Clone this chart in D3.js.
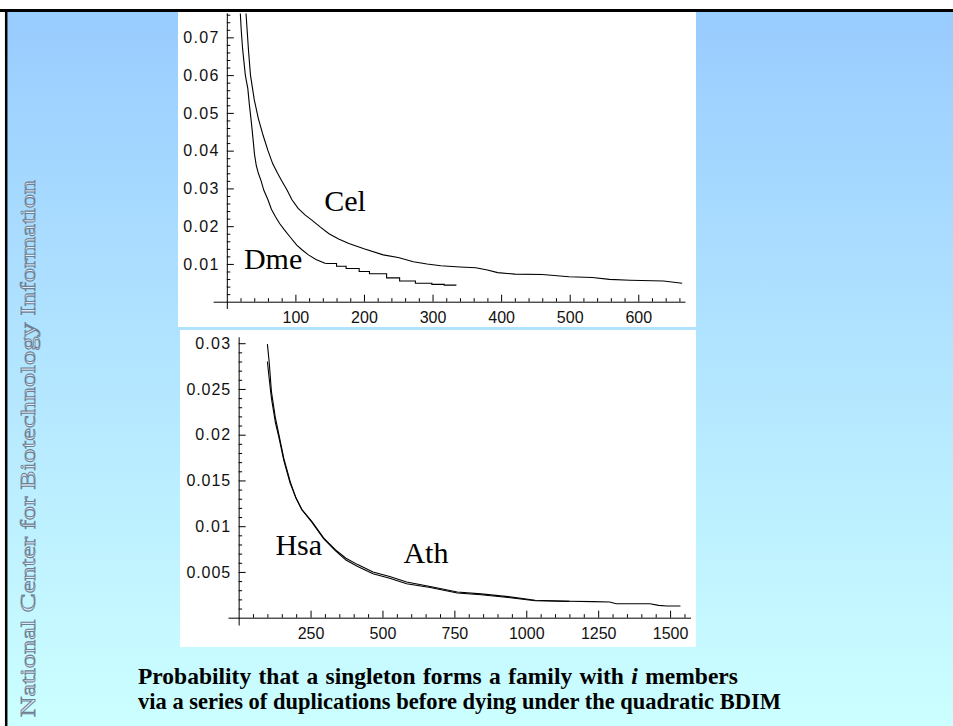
<!DOCTYPE html>
<html>
<head>
<meta charset="utf-8">
<script src="https://cdn.jsdelivr.net/npm/d3@7"></script>
<style>
body { margin: 0; background: #fff; }
svg { display: block; }
</style>
</head>
<body>
<svg id="slide" width="953" height="726"></svg>
<script>
// ---- data ----
// top panel: C. elegans and D. melanogaster
const celX = [28, 31.6, 34.5, 40, 46, 53, 60, 67, 74, 80, 88, 95, 104, 114, 124, 136, 149, 163, 178, 200, 228, 250, 272, 292, 312, 340, 363, 380, 395, 420, 460, 499, 533, 558, 588, 637, 664];
const celY = [0.0763, 0.0666, 0.060, 0.0535, 0.0485, 0.0440, 0.0400, 0.0365, 0.0340, 0.0320, 0.0295, 0.0270, 0.0247, 0.0230, 0.0216, 0.0198, 0.0180, 0.0166, 0.0154, 0.0140, 0.0124, 0.0117, 0.0106, 0.0100, 0.0095, 0.0092, 0.0090, 0.0084, 0.0077, 0.0073, 0.0072, 0.0066, 0.0064, 0.0059, 0.0057, 0.0055, 0.0049];

// Dme: smooth head, visibly stepped tail from dmeStepFrom on
const dmeX = [19.7, 21, 23, 25, 27, 29, 30.6, 33, 35.5, 38, 40.4, 43, 46, 50, 54, 60, 65, 71, 77, 84, 92, 102, 110, 119, 130, 144, 160, 174, 193, 208, 233, 252, 275, 299, 317, 334];
const dmeY = [0.0763, 0.072, 0.067, 0.0635, 0.060, 0.058, 0.0565, 0.052, 0.048, 0.0435, 0.039, 0.036, 0.034, 0.032, 0.0295, 0.027, 0.0245, 0.0225, 0.0207, 0.019, 0.0172, 0.0150, 0.0137, 0.0124, 0.0112, 0.0101, 0.0094, 0.0088, 0.0080, 0.0074, 0.0063, 0.0055, 0.0049, 0.0046, 0.0044, 0.0042];
const dmeStepFrom = 144;

// bottom panel: A. thaliana and H. sapiens
const athX = [100, 106, 114, 128, 140, 157, 179, 199, 220, 255, 296, 337, 373, 414, 467, 525, 584, 666, 760, 843, 937, 1031, 1148, 1231, 1290, 1313, 1430, 1460, 1489, 1536];
const athY = [0.0299, 0.0280, 0.0247, 0.0218, 0.0200, 0.0174, 0.0149, 0.0131, 0.0118, 0.0105, 0.0087, 0.0074, 0.0065, 0.0058, 0.0050, 0.0045, 0.0039, 0.0034, 0.0028, 0.0026, 0.0023, 0.0019, 0.0018, 0.00175, 0.00172, 0.00153, 0.00153, 0.00135, 0.00128, 0.00128];

const hsaX = [100, 106, 114, 128, 140, 157, 179, 199, 220, 255, 296, 337, 373, 414, 467, 525, 584, 666, 760, 843, 937, 1031, 1150];
const hsaY = [0.0280, 0.0262, 0.0240, 0.0213, 0.0197, 0.0172, 0.0147, 0.0131, 0.0118, 0.0104, 0.0086, 0.0073, 0.0063, 0.0056, 0.0048, 0.0043, 0.0037, 0.0033, 0.0027, 0.0025, 0.0022, 0.00185, 0.00178];

// ticks
const topXMajor = [100, 200, 300, 400, 500, 600];
const topXLabels = ["100", "200", "300", "400", "500", "600"];
const topYMajor = [0.01, 0.02, 0.03, 0.04, 0.05, 0.06, 0.07];
const topYLabels = ["0.01", "0.02", "0.03", "0.04", "0.05", "0.06", "0.07"];
const botXMajor = [250, 500, 750, 1000, 1250, 1500];
const botXLabels = ["250", "500", "750", "1000", "1250", "1500"];
const botYMajor = [0.005, 0.01, 0.015, 0.02, 0.025, 0.03];
const botYLabels = ["0.005", "0.01", "0.015", "0.02", "0.025", "0.03"];

const caption1 = "Probability that a singleton forms a family with ";
const caption2 = "via a series of duplications before dying under the quadratic BDIM";
const sideText = "National Center for Biotechnology Information";

const svg = d3.select("#slide");

// background gradient
const grad = svg.append("defs").append("linearGradient")
    .attr("id", "bg").attr("x1", 0).attr("y1", 0).attr("x2", 0).attr("y2", 1);
grad.append("stop").attr("offset", "0%").attr("stop-color", "#99ccff");
grad.append("stop").attr("offset", "100%").attr("stop-color", "#ccffff");

svg.append("rect").attr("x", 6).attr("y", 10).attr("width", 947).attr("height", 716)
    .attr("fill", "url(#bg)");
svg.append("line").attr("x1", 0).attr("x2", 953).attr("y1", 10.5).attr("y2", 10.5)
    .attr("stroke", "#000").attr("stroke-width", 3);
svg.append("line").attr("x1", 6.2).attr("x2", 6.2).attr("y1", 9).attr("y2", 726)
    .attr("stroke", "#000").attr("stroke-width", 2.5);

// side logo text
svg.append("text")
    .attr("transform", "translate(35,717) rotate(-90)")
    .attr("textLength", 537)
    .attr("lengthAdjust", "spacingAndGlyphs")
    .style("font-family", "'Liberation Serif', serif")
    .style("font-size", "22px")
    .attr("fill", "#dcecf8")
    .attr("stroke", "#6f8093")
    .attr("stroke-width", 0.85)
    .text(sideText);

function range(a, b, step) {
    let out = [];
    for (let v = a; v <= b + step / 1000; v += step) out.push(+v.toFixed(6));
    return out;
}

function drawPanel(p) {
    let g = svg.append("g");
    g.append("rect").attr("x", p.box[0]).attr("y", p.box[1])
        .attr("width", p.box[2] - p.box[0]).attr("height", p.box[3] - p.box[1])
        .attr("fill", "#fff");

    let x = d3.scaleLinear().domain(p.xDomain).range(p.xRange);
    let y = d3.scaleLinear().domain(p.yDomain).range(p.yRange);

    // minor ticks
    let xMinor = range(p.xMinor[0], p.xMinor[1], p.xMinor[2]).filter(v => !p.xMajor.some(m => Math.abs(m - v) < 1e-9));
    let yMinor = range(p.yMinor[0], p.yMinor[1], p.yMinor[2]).filter(v => !p.yMajor.some(m => Math.abs(m - v) < 1e-9));

    g.append("g")
        .attr("transform", "translate(0," + y(0) + ")")
        .call(d3.axisBottom(x).tickValues(xMinor).tickSizeInner(-3.5).tickSizeOuter(0).tickFormat(""))
        .call(a => a.select(".domain").remove());
    g.append("g")
        .attr("transform", "translate(" + x(0) + ",0)")
        .call(d3.axisLeft(y).tickValues(yMinor).tickSizeInner(-3.5).tickSizeOuter(0).tickFormat(""))
        .call(a => a.select(".domain").remove());

    g.append("g")
        .attr("class", "xaxis")
        .attr("transform", "translate(0," + y(0) + ")")
        .call(d3.axisBottom(x).tickValues(p.xMajor).tickSizeInner(-7).tickSizeOuter(0)
            .tickPadding(10).tickFormat((d, i) => p.xLabels[i]));
    g.append("g")
        .attr("class", "yaxis")
        .attr("transform", "translate(" + x(0) + ",0)")
        .call(d3.axisLeft(y).tickValues(p.yMajor).tickSizeInner(-7).tickSizeOuter(0)
            .tickPadding(8.5).tickFormat((d, i) => p.yLabels[i]));

    g.selectAll(".tick line").attr("stroke", "#000");
    g.selectAll(".domain").attr("stroke", "#000");
    g.selectAll(".tick text")
        .attr("fill", "#111")
        .style("font-family", "'Liberation Sans', Arial, sans-serif")
        .style("font-size", "16px");
    // the original labels use an even character pitch (the dot is as wide as a digit)
    g.selectAll(".tick text").each(function () {
        let s = d3.select(this).text();
        if (s.indexOf(".") >= 0) {
            d3.select(this).attr("textLength", s.length * 8.75).attr("lengthAdjust", "spacing");
        }
    });

    p.series.forEach(s => {
        let pts = s.xs.map((v, i) => [v, s.ys[i]]);
        let parts = s.stepFrom == null ? [[pts, d3.curveLinear]] : [
            [pts.filter(d => d[0] <= s.stepFrom), d3.curveLinear],
            [pts.filter(d => d[0] >= s.stepFrom), d3.curveStepAfter]
        ];
        parts.forEach(([data, curve]) => {
            g.append("path")
                .datum(data)
                .attr("fill", "none")
                .attr("stroke", "#000")
                .attr("stroke-width", 1.1)
                .attr("d", d3.line().x(d => x(d[0])).y(d => y(d[1])).curve(curve));
        });
    });

    p.labels.forEach(l => {
        g.append("text")
            .attr("x", x(l.x)).attr("y", y(l.y))
            .style("font-family", "'Liberation Serif', 'Times New Roman', serif")
            .style("font-size", "30px")
            .attr("fill", "#000")
            .text(l.text);
    });
}

drawPanel({
    box: [178, 12, 696, 327],
    xDomain: [-20, 668], xRange: [213.1, 684.9],
    yDomain: [-0.0018, 0.0765], yRange: [308.5, 12.8],
    xMajor: topXMajor, xLabels: topXLabels,
    yMajor: topYMajor, yLabels: topYLabels,
    xMinor: [20, 660, 20], yMinor: [0.002, 0.076, 0.002],
    series: [
        { xs: celX, ys: celY },
        { xs: dmeX, ys: dmeY, stepFrom: dmeStepFrom }
    ],
    labels: [
        { text: "Cel", x: 142, y: 0.0241 },
        { text: "Dme", x: 25, y: 0.0086 }
    ]
});

drawPanel({
    box: [180, 330, 696, 647],
    xDomain: [-37, 1571], xRange: [228, 690.5],
    yDomain: [-0.0008, 0.0307], yRange: [625, 336.8],
    xMajor: botXMajor, xLabels: botXLabels,
    yMajor: botYMajor, yLabels: botYLabels,
    xMinor: [50, 1550, 50], yMinor: [0.001, 0.03, 0.001],
    series: [
        { xs: athX, ys: athY },
        { xs: hsaX, ys: hsaY }
    ],
    labels: [
        { text: "Hsa", x: 128, y: 0.0069 },
        { text: "Ath", x: 573, y: 0.0060 }
    ]
});

// caption
let cap = svg.append("g")
    .style("font-family", "'Liberation Serif', 'Times New Roman', serif")
    .style("font-size", "22.5px")
    .style("font-weight", "bold")
    .attr("fill", "#000");
let t1 = cap.append("text").attr("x", 138).attr("y", 684)
    .style("font-size", "23.5px")
    .style("word-spacing", "1.5px");
t1.append("tspan").text(caption1);
t1.append("tspan").style("font-style", "italic").text("i");
t1.append("tspan").text(" members");
cap.append("text").attr("x", 138).attr("y", 709)
    .text(caption2);
</script>
</body>
</html>
